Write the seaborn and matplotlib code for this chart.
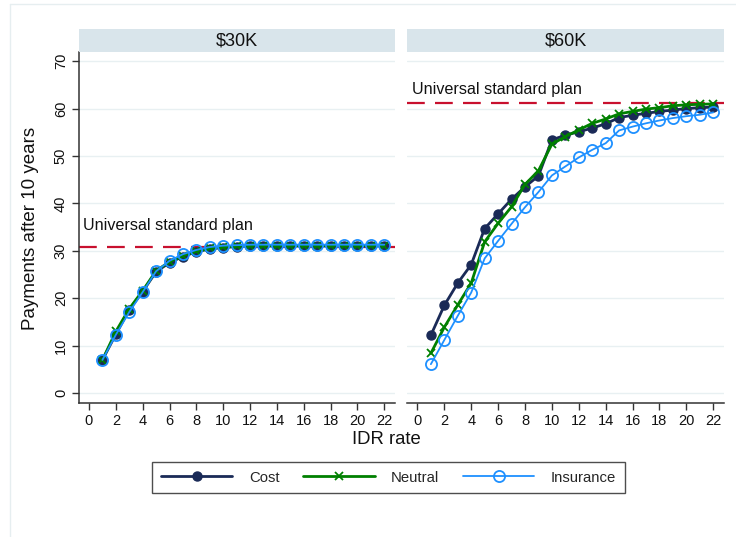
import numpy as np
import pandas as pd
import matplotlib
matplotlib.use("Agg")
import matplotlib.pyplot as plt
from matplotlib.lines import Line2D
import seaborn as sns

# IDR rate (x) and payments after 10 years for each pricing scenario
idr_rate = list(range(1, 23))

cost_30k = [7.0, 12.4, 17.6, 21.4, 25.6, 27.5, 28.8, 29.8, 30.4, 30.7, 30.9,
            31.0, 31.0, 31.0, 31.0, 31.0, 31.0, 31.0, 31.0, 31.0, 31.0, 31.0]
neutral_30k = [7.0, 13.0, 17.8, 21.6, 25.8, 27.7, 29.0, 29.9, 30.5, 30.8, 31.0,
               31.1, 31.1, 31.1, 31.1, 31.1, 31.1, 31.1, 31.1, 31.1, 31.1, 31.1]
insurance_30k = [7.0, 12.3, 17.1, 21.3, 25.7, 27.9, 29.3, 30.2, 30.8, 31.1, 31.2,
                 31.3, 31.3, 31.3, 31.3, 31.3, 31.3, 31.3, 31.3, 31.3, 31.3, 31.3]

cost_60k = [12.2, 18.5, 23.2, 27.1, 34.7, 37.8, 40.9, 43.5, 45.8, 53.4, 54.4,
            55.1, 55.9, 56.8, 58.1, 58.6, 59.0, 59.4, 59.7, 60.0, 60.2, 60.3]
neutral_60k = [8.4, 13.9, 18.6, 23.2, 31.9, 35.8, 39.3, 44.0, 46.9, 52.5, 54.1,
               55.5, 56.9, 57.8, 58.9, 59.4, 59.9, 60.2, 60.6, 60.8, 60.9, 61.0]
insurance_60k = [6.1, 11.2, 16.3, 21.2, 28.4, 32.1, 35.7, 39.2, 42.4, 45.9, 47.8,
                 49.7, 51.3, 52.7, 55.4, 56.2, 56.9, 57.5, 58.0, 58.4, 58.7, 59.2]

standard_plan = {"$30K": 30.9, "$60K": 61.1}
panels = ["$30K", "$60K"]
scenarios = ["Cost", "Neutral", "Insurance"]

rows = []
for panel, series in zip(panels, [(cost_30k, neutral_30k, insurance_30k),
                                  (cost_60k, neutral_60k, insurance_60k)]):
    for name, vals in zip(scenarios, series):
        for x, y in zip(idr_rate, vals):
            rows.append({"panel": panel, "scenario": name, "idr": x, "pay": y})
df = pd.DataFrame(rows)

sns.set_theme(style="white")
plt.rcParams["font.family"] = ["Liberation Sans", "DejaVu Sans"]

styles = {
    "Cost": dict(color="#1a2a57", lw=2.0, marker="o", ms=6.5, mfc="#1a2a57",
                 mec="#1a2a57", mew=1.0),
    "Neutral": dict(color="#008000", lw=2.0, marker="x", ms=5.5, mfc="#008000",
                    mec="#008000", mew=1.3),
    "Insurance": dict(color="#1e90ff", lw=1.3, marker="o", ms=8.0, mfc="none",
                      mec="#1e90ff", mew=1.3),
}

W, H = 736, 537
fig = plt.figure(figsize=(W / 100, H / 100), dpi=100)
fig.patch.set_facecolor("white")

# faint outer frame of the graph region
fig.add_artist(Line2D([10 / W, 10 / W], [0, 1 - 4 / H], transform=fig.transFigure,
                      color="#e6eef0", lw=1.0))
fig.add_artist(Line2D([10 / W, 1], [1 - 4 / H, 1 - 4 / H], transform=fig.transFigure,
                      color="#e6eef0", lw=1.0))

ax_top, ax_bot = 51.7, 403.3
strip_top = 29.0
panel_x = [(79, 395), (407.4, 724)]
label_offset = {"$30K": 4.4, "$60K": 2.9}

grid_color = "#e8f0f2"
axes = []
for i, panel in enumerate(panels):
    x0, x1 = panel_x[i]
    ax = fig.add_axes([x0 / W, 1 - ax_bot / H, (x1 - x0) / W, (ax_bot - ax_top) / H])
    axes.append(ax)
    sub = df[df["panel"] == panel]
    ax.set_xlim(-0.745, 22.8)
    ax.set_ylim(-2.15, 72.0)
    for y in range(0, 71, 10):
        ax.axhline(y, color=grid_color, lw=1.0, zorder=0)

    ref = standard_plan[panel]
    ax.axhline(ref, color="#c8102e", lw=1.6, ls=(0, (8, 4.6)), zorder=1)
    ax.text(0.014, (ref + label_offset[panel] + 2.15) / 74.15, "Universal standard plan",
            transform=ax.transAxes, fontsize=11.6, color="#111111", va="center", ha="left")

    for name in scenarios:
        d = sub[sub["scenario"] == name]
        st = styles[name]
        sns.lineplot(data=d, x="idr", y="pay", ax=ax, color=st["color"], lw=st["lw"],
                     marker=st["marker"], markersize=st["ms"], markerfacecolor=st["mfc"],
                     markeredgecolor=st["mec"], markeredgewidth=st["mew"],
                     legend=False, zorder=3, errorbar=None)

    ax.set_xticks(range(0, 23, 2))
    ax.set_yticks(range(0, 71, 10))
    ax.set_xlabel("")
    ax.set_ylabel("")
    ax.tick_params(axis="x", direction="out", length=5, width=1, color="#333333",
                   labelsize=10.5, pad=2.5, labelcolor="#111111", bottom=True)
    for s in ["top", "right"]:
        ax.spines[s].set_visible(False)
    ax.spines["bottom"].set_color("#333333")
    ax.spines["bottom"].set_linewidth(1.1)
    if i == 0:
        ax.spines["left"].set_color("#333333")
        ax.spines["left"].set_linewidth(1.1)
        ax.tick_params(axis="y", direction="out", length=5, width=1, color="#333333",
                       labelsize=10.5, pad=3, labelcolor="#111111", left=True)
        for lab in ax.get_yticklabels():
            lab.set_rotation(90)
            lab.set_va("center")
    else:
        ax.spines["left"].set_visible(False)
        ax.tick_params(axis="y", left=False, labelleft=False)
    ax.set_facecolor("white")

    # strip header
    sax = fig.add_axes([x0 / W, 1 - ax_top / H, (x1 - x0) / W, (ax_top - strip_top) / H])
    sax.set_facecolor("#d9e5eb")
    sax.set_xticks([])
    sax.set_yticks([])
    for s in sax.spines.values():
        s.set_visible(False)
    sax.text(0.5, 0.47, panel.replace("$", r"\$"), ha="center", va="center",
             fontsize=13, color="#111111", transform=sax.transAxes)

fig.text(31 / W, 1 - 228 / H, "Payments after 10 years", rotation=90,
         ha="center", va="center", fontsize=13.5, color="#111111")
fig.text(386 / W, 1 - 440 / H, "IDR rate", ha="center", va="center",
         fontsize=13.3, color="#111111")

handles = []
for name in scenarios:
    st = styles[name]
    handles.append(Line2D([], [], color=st["color"], lw=st["lw"], marker=st["marker"],
                          markersize=st["ms"], markerfacecolor=st["mfc"],
                          markeredgecolor=st["mec"], markeredgewidth=st["mew"]))
leg = fig.legend(handles, scenarios, loc="center", ncol=3,
                 bbox_to_anchor=(388.5 / W, 1 - 477.5 / H), frameon=True,
                 fontsize=10.7, handlelength=4.8, handletextpad=1.1,
                 columnspacing=1.6, borderpad=0.6, fancybox=False, markerscale=1.0)
leg.get_frame().set_edgecolor("#222222")
leg.get_frame().set_linewidth(1.0)

fig.savefig("out.png", dpi=100, facecolor="white")
